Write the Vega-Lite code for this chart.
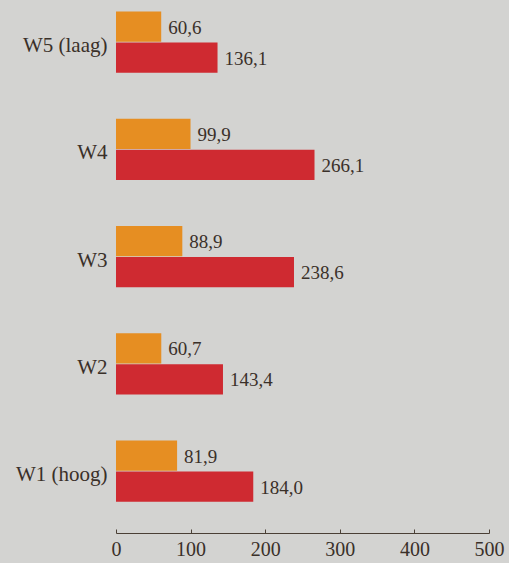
{
  "$schema": "https://vega.github.io/schema/vega-lite/v6.json",
  "width": 373,
  "height": 533,
  "autosize": "none",
  "padding": {"left": 116, "top": 0, "right": 20, "bottom": 30},
  "background": "#d3d3d1",
  "config": {
    "view": {"stroke": null},
    "locale": {"number": {"decimal": ",", "thousands": ".", "grouping": [3], "currency": ["€", ""]}},
    "font": "Liberation Serif"
  },
  "data": {
    "values": [
      {"groep": "W5 (laag)", "serie": "a", "waarde": 60.6},
      {"groep": "W5 (laag)", "serie": "b", "waarde": 136.1},
      {"groep": "W4", "serie": "a", "waarde": 99.9},
      {"groep": "W4", "serie": "b", "waarde": 266.1},
      {"groep": "W3", "serie": "a", "waarde": 88.9},
      {"groep": "W3", "serie": "b", "waarde": 238.6},
      {"groep": "W2", "serie": "a", "waarde": 60.7},
      {"groep": "W2", "serie": "b", "waarde": 143.4},
      {"groep": "W1 (hoog)", "serie": "a", "waarde": 81.9},
      {"groep": "W1 (hoog)", "serie": "b", "waarde": 184.0}
    ]
  },
  "encoding": {
    "y": {
      "field": "groep",
      "type": "nominal",
      "sort": ["W5 (laag)", "W4", "W3", "W2", "W1 (hoog)"],
      "scale": {"paddingInner": 0.43, "paddingOuter": 0.2, "align": 0.27},
      "axis": {
        "title": null,
        "domain": false,
        "ticks": false,
        "labelPadding": 9,
        "labelOffset": 4,
        "labelFontSize": 21,
        "labelColor": "#3a3029",
        "labelFont": "Liberation Serif"
      }
    },
    "yOffset": {
      "field": "serie",
      "type": "nominal",
      "sort": ["a", "b"],
      "scale": {"paddingInner": 0.03, "paddingOuter": 0}
    },
    "x": {
      "field": "waarde",
      "type": "quantitative",
      "scale": {"domain": [0, 500], "nice": false},
      "axis": {
        "title": null,
        "values": [0, 100, 200, 300, 400, 500],
        "grid": false,
        "domainColor": "#4a3f35",
        "tickColor": "#4a3f35",
        "tickSize": -4,
        "labelPadding": 10,
        "labelFontSize": 20,
        "labelColor": "#3a3029",
        "labelFont": "Liberation Serif",
        "labelFlush": false
      }
    }
  },
  "layer": [
    {
      "mark": {"type": "bar"},
      "encoding": {
        "color": {
          "field": "serie",
          "type": "nominal",
          "scale": {"domain": ["a", "b"], "range": ["#e68e22", "#cf2a31"]},
          "legend": null
        }
      }
    },
    {
      "mark": {"type": "text", "align": "left", "baseline": "middle", "dx": 7, "dy": 1, "fontSize": 19, "color": "#3a3029", "font": "Liberation Serif"},
      "encoding": {
        "text": {"field": "waarde", "type": "quantitative", "format": ".1f"}
      }
    }
  ]
}
